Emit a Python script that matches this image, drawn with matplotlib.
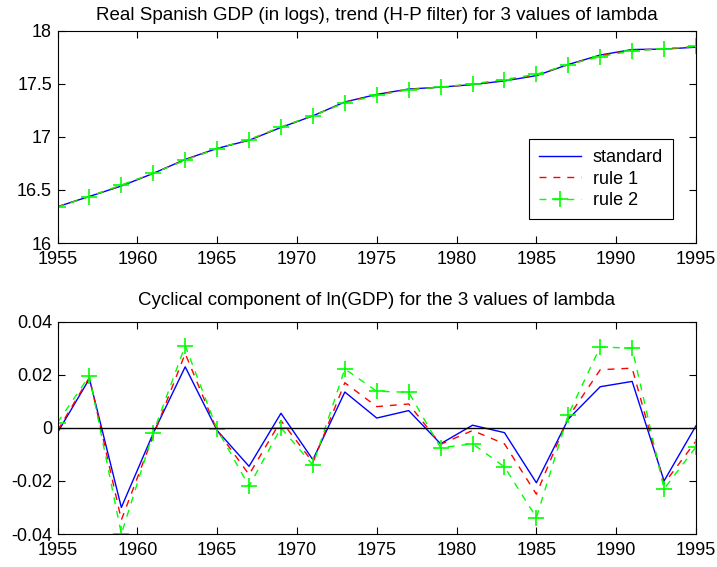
import matplotlib.pyplot as plt
from matplotlib.ticker import FuncFormatter

plt.rcParams["font.family"] = ["Liberation Sans", "DejaVu Sans"]
plt.rcParams["font.size"] = 13

years = [1955, 1957, 1959, 1961, 1963, 1965, 1967, 1969, 1971, 1973, 1975,
         1977, 1979, 1981, 1983, 1985, 1987, 1989, 1991, 1993, 1995]

# trend of ln(GDP) for each lambda
trend_std = [16.342, 16.439, 16.537, 16.656, 16.788, 16.891, 16.968, 17.089, 17.198, 17.329, 17.400,
             17.451, 17.468, 17.493, 17.527, 17.577, 17.682, 17.771, 17.823, 17.827, 17.845]
trend_r1 = [16.341, 16.439, 16.542, 16.657, 16.783, 16.891, 16.971, 17.091, 17.199, 17.325, 17.396,
            17.448, 17.468, 17.495, 17.531, 17.581, 17.681, 17.765, 17.818, 17.828, 17.851]
trend_r2 = [16.338, 16.438, 16.547, 16.656, 16.780, 16.890, 16.975, 17.094, 17.200, 17.320, 17.390,
            17.444, 17.469, 17.500, 17.540, 17.590, 17.680, 17.756, 17.810, 17.830, 17.853]

# cyclical component
cyc_std = [-0.0018, 0.0185, -0.0300, -0.0020, 0.0230, -0.0010, -0.0145, 0.0055, -0.0120, 0.0135, 0.0037,
           0.0065, -0.0060, 0.0010, -0.0018, -0.0207, 0.0033, 0.0155, 0.0175, -0.0200, 0.0008]
cyc_r1 = [-0.0010, 0.0190, -0.0347, -0.0030, 0.0280, -0.0010, -0.0176, 0.0027, -0.0130, 0.0170, 0.0080,
          0.0090, -0.0062, -0.0010, -0.0060, -0.0250, 0.0040, 0.0219, 0.0225, -0.0210, -0.0050]
cyc_r2 = [0.0020, 0.0196, -0.0400, -0.0018, 0.0310, -0.0005, -0.0220, 0.0000, -0.0140, 0.0222, 0.0138,
          0.0134, -0.0075, -0.0060, -0.0147, -0.0338, 0.0050, 0.0305, 0.0300, -0.0230, -0.0072]

labels = ["standard", "rule 1", "rule 2"]

fig = plt.figure(figsize=(7.17, 5.67), dpi=100)
ax1 = fig.add_axes([0.0802, 0.5714, 0.8905, 0.3744])
ax2 = fig.add_axes([0.0802, 0.0582, 0.8905, 0.3744])


def style(ax):
    ax.set_xlim(1955, 1995)
    ax.set_xticks(range(1955, 1996, 5))
    ax.tick_params(direction="in", top=True, right=True, length=5, width=0.8)
    ax.tick_params(axis="x", pad=6)
    ax.tick_params(axis="y", pad=4)
    ax.yaxis.set_major_formatter(FuncFormatter(lambda v, p: f"{v:g}"))
    for s in ax.spines.values():
        s.set_linewidth(0.8)


ax1.plot(years, trend_std, color="blue", lw=1, label=labels[0])
ax1.plot(years, trend_r1, color="red", lw=1, ls=(0, (5, 5)), label=labels[1])
ax1.plot(years, trend_r2, color="#00ff00", lw=1, ls=(0, (5, 5)), marker="+",
         ms=11, mew=1.2, label=labels[2])
style(ax1)
ax1.set_ylim(16, 18)
ax1.set_yticks([16, 16.5, 17, 17.5, 18])
ax1.set_title("Real Spanish GDP (in logs), trend (H-P filter) for 3 values of lambda",
              fontsize=13.5, pad=8)
leg = ax1.legend(loc="lower right", bbox_to_anchor=(0.964, 0.113), borderaxespad=0,
                 fancybox=False, edgecolor="black", framealpha=1, handlelength=2.3,
                 handletextpad=0.67, borderpad=0.55, labelspacing=0.25)
leg.get_frame().set_linewidth(0.8)

ax2.plot(years, cyc_std, color="blue", lw=1)
ax2.plot(years, cyc_r1, color="red", lw=1, ls=(0, (5, 5)))
ax2.plot(years, cyc_r2, color="#00ff00", lw=1, ls=(0, (5, 5)), marker="+", ms=11, mew=1.2)
ax2.axhline(0, color="black", lw=1)
style(ax2)
ax2.set_ylim(-0.04, 0.04)
ax2.set_yticks([-0.04, -0.02, 0, 0.02, 0.04])
ax2.set_title("Cyclical component of ln(GDP) for the 3 values of lambda", fontsize=13.5, pad=12)

fig.savefig("out.png", dpi=100)
